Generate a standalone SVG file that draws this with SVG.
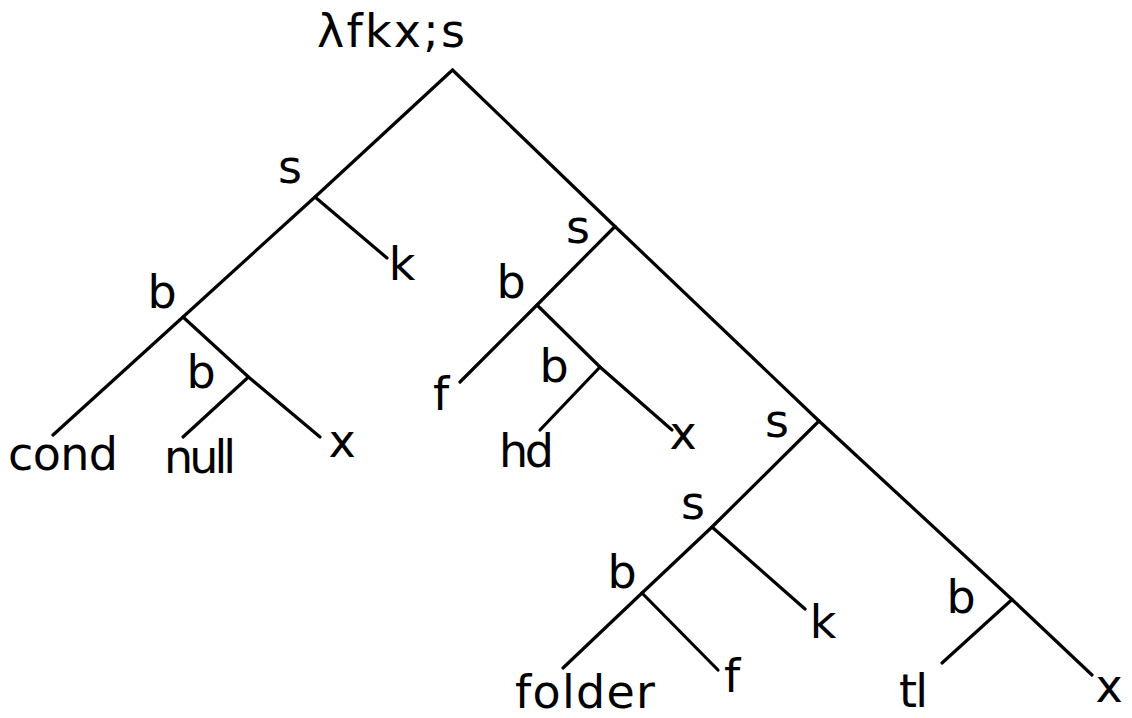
<svg xmlns="http://www.w3.org/2000/svg" width="1132" height="718" viewBox="0 0 1132 718">
  <style>
    .edge { fill: none; stroke: #000; stroke-width: 3.2; stroke-linecap: round; stroke-linejoin: miter; }
    .lbl { font-family: "DejaVu Sans", "Liberation Sans", sans-serif; font-size: 46px; fill: #000; }
    .mid { text-anchor: middle; }
  </style>
  <rect width="1132" height="718" fill="#fff"/>

  <!-- tree edges -->
  <g id="connectors">
    <!-- right spine: root -> s -> s -> b -> x -->
    <polyline class="edge" points="452.5,70 615,226.5 819,421 1012,599.5 1092,675"/>
    <!-- left spine: root -> s -> b -> cond -->
    <polyline class="edge" points="452.5,70 315,197 183,317 53,435"/>
    <line class="edge" x1="315" y1="197" x2="387" y2="258"/>
    <polyline class="edge" points="183,317 248.5,377 320,437"/>
    <line class="edge" x1="248.5" y1="377" x2="183" y2="437"/>
    <!-- middle subtree -->
    <polyline class="edge" points="615,226.5 537,305 460,382"/>
    <polyline class="edge" points="537,305 600,367 672,430"/>
    <line class="edge" x1="600" y1="367" x2="540" y2="430"/>
    <!-- lower subtree -->
    <polyline class="edge" points="819,421 712,527 642,593 563,668"/>
    <line class="edge" x1="712" y1="527" x2="805" y2="609"/>
    <line class="edge" x1="642" y1="593" x2="718" y2="670"/>
    <line class="edge" x1="1012" y1="599.5" x2="942" y2="663"/>
  </g>

  <!-- internal nodes -->
  <g id="root"><text class="lbl" x="317" y="47" textLength="148" lengthAdjust="spacing">λfkx;s</text></g>
  <g id="s-left"><text class="lbl mid" x="290" y="183">s</text></g>
  <g id="b-left"><text class="lbl mid" x="162" y="308">b</text></g>
  <g id="b-left-inner"><text class="lbl mid" x="201" y="388">b</text></g>
  <g id="s-mid"><text class="lbl mid" x="578" y="243">s</text></g>
  <g id="b-mid"><text class="lbl mid" x="511" y="298">b</text></g>
  <g id="b-mid-inner"><text class="lbl mid" x="554" y="382">b</text></g>
  <g id="s-right"><text class="lbl mid" x="777" y="437">s</text></g>
  <g id="s-lower"><text class="lbl mid" x="693" y="519">s</text></g>
  <g id="b-lower"><text class="lbl mid" x="622" y="588">b</text></g>
  <g id="b-right"><text class="lbl mid" x="961" y="613">b</text></g>

  <!-- leaves -->
  <g id="leaf-cond"><text class="lbl" x="8" y="470" textLength="110" lengthAdjust="spacing">cond</text></g>
  <g id="leaf-null"><text class="lbl" x="164" y="473" textLength="72" lengthAdjust="spacing">null</text></g>
  <g id="leaf-x1"><text class="lbl mid" x="342" y="457">x</text></g>
  <g id="leaf-k1"><text class="lbl mid" x="402" y="280">k</text></g>
  <g id="leaf-f1"><text class="lbl mid" x="441" y="410">f</text></g>
  <g id="leaf-hd"><text class="lbl" x="499" y="467" textLength="55" lengthAdjust="spacing">hd</text></g>
  <g id="leaf-x2"><text class="lbl mid" x="683" y="449">x</text></g>
  <g id="leaf-folder"><text class="lbl" x="515" y="708" textLength="140" lengthAdjust="spacing">folder</text></g>
  <g id="leaf-f2"><text class="lbl mid" x="732" y="692">f</text></g>
  <g id="leaf-k2"><text class="lbl mid" x="823" y="638">k</text></g>
  <g id="leaf-tl"><text class="lbl" x="899" y="707" textLength="29" lengthAdjust="spacing">tl</text></g>
  <g id="leaf-x3"><text class="lbl mid" x="1109" y="702">x</text></g>
</svg>
